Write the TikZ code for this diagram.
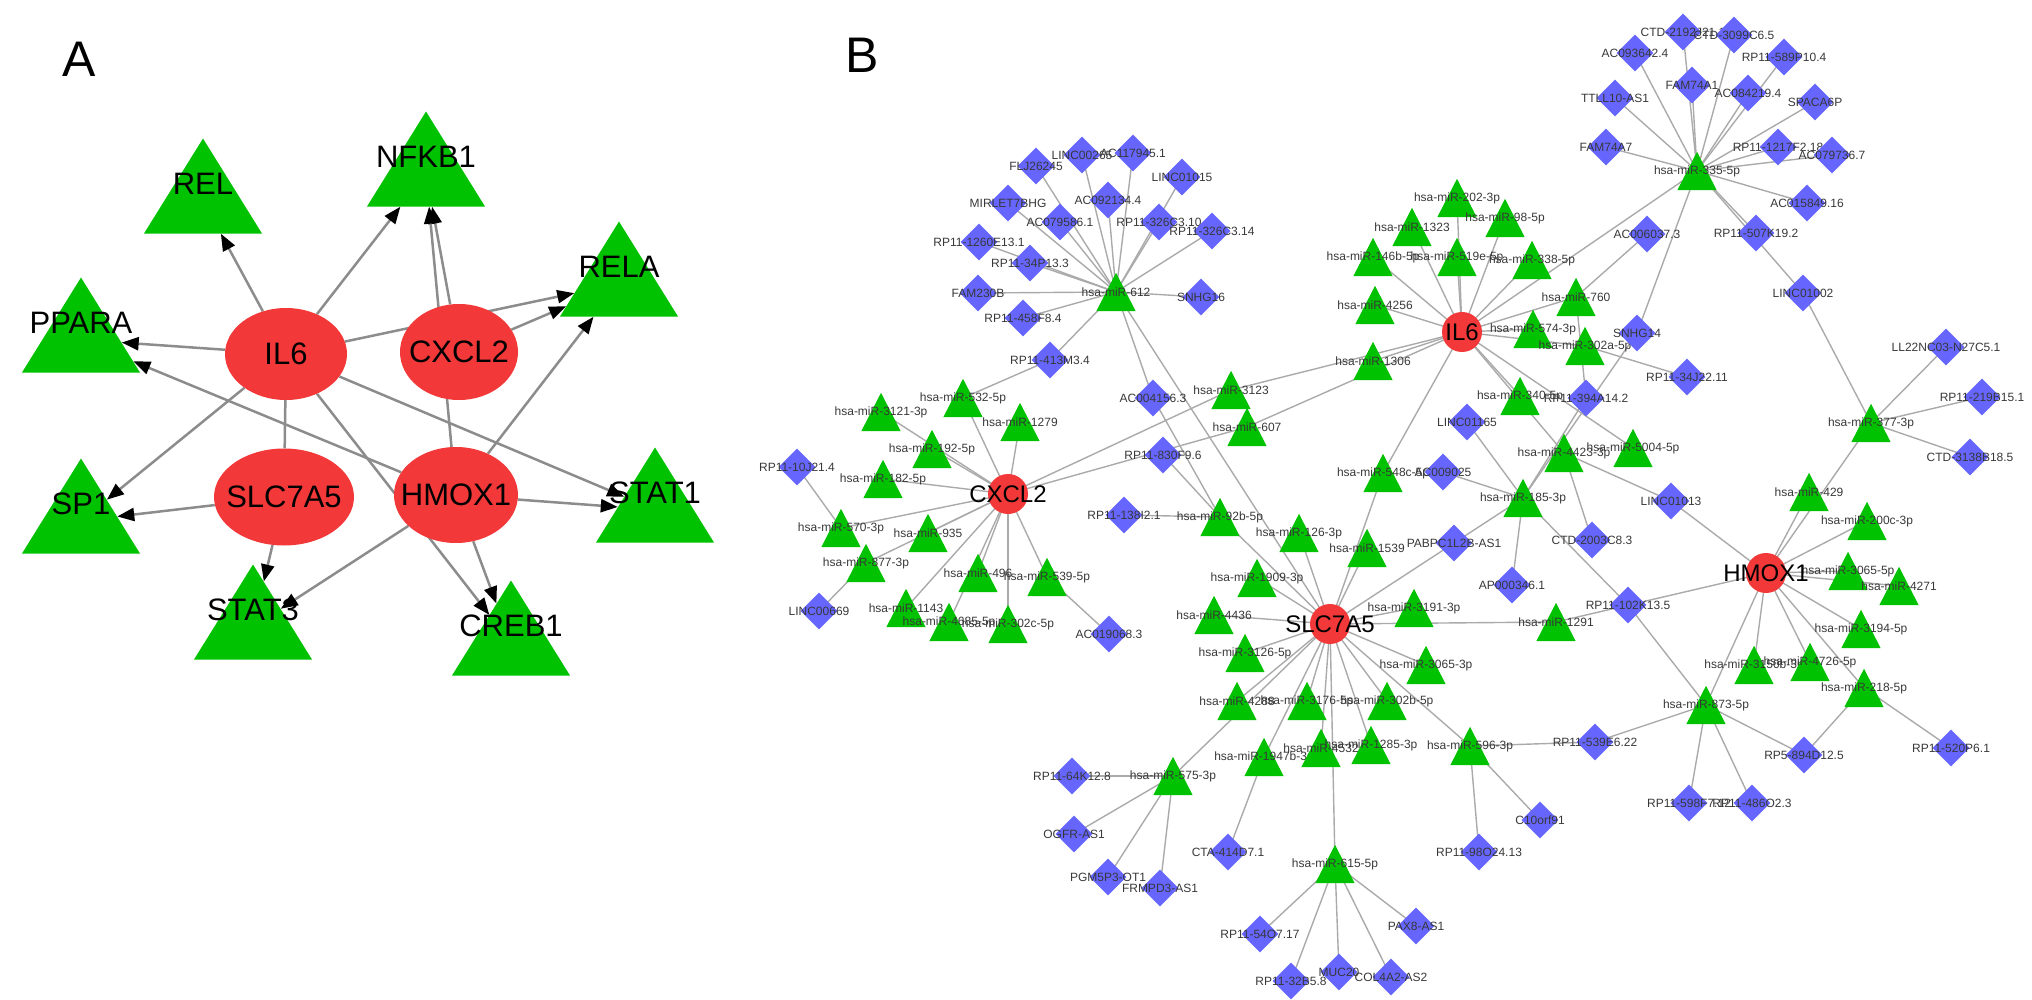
\documentclass[tikz,border=0pt]{standalone}
\usepackage{fontspec}
\setmainfont{Liberation Sans}
\usetikzlibrary{shapes.geometric,arrows.meta,backgrounds}
\definecolor{triG}{RGB}{0,194,0}
\definecolor{diaBlue}{RGB}{102,102,255}
\definecolor{hubR}{RGB}{242,56,56}
\definecolor{edgeB}{RGB}{170,170,170}
\definecolor{edgeA}{RGB}{140,140,140}
\tikzset{
 geneA/.style={ellipse, fill=hubR, inner sep=0pt},
 triA/.style={isosceles triangle, isosceles triangle stretches, shape border rotate=90, fill=triG, inner sep=0pt, minimum width=118pt, minimum height=95pt, anchor=apex},
 lblA/.style={font=\fontsize{31}{34}\selectfont, text=black, inner sep=0pt},
 panel/.style={font=\fontsize{50}{52}\selectfont, text=black, inner sep=0pt},
 arrA/.style={draw=edgeA, line width=2.5pt, -{Triangle[length=17pt,width=13pt,color=black]}},
 lineA/.style={draw=edgeA, line width=2.5pt},
 hubB/.style={circle, fill=hubR, inner sep=0pt, minimum size=40pt},
 triB/.style={rectangle, inner sep=0pt, minimum width=39pt, minimum height=38pt,
   append after command={\pgfextra{\fill[triG] (\tikzlastnode.south west) -- (\tikzlastnode.south east) -- (\tikzlastnode.north) -- cycle;}}},
 diaS/.style={diamond, aspect=1, inner sep=0pt, minimum size=37pt, fill=diaBlue},
 lblB/.style={font=\fontsize{12}{14}\selectfont, text=black!78, inner sep=0pt},
 lblH/.style={font=\fontsize{24}{26}\selectfont, text=black, inner sep=0pt},
 edB/.style={draw=edgeB, line width=1.4pt},
}
\newcommand\mytri[4]{\node[triB,label={[lblB]center:#4}] (#1) at (#2,#3) {};}
\newcommand\mydia[4]{\node[diaS,label={[lblB]center:#4}] (#1) at (#2,#3) {};}
\begin{document}
\begin{tikzpicture}[x=1pt,y=-1pt]
\useasboundingbox (0,0) rectangle (2032,1000);

% ---------------- Panel A ----------------
\node[panel] (labA) at (79,59) {A};
\node[panel] (labB) at (862,55) {B};

\node[triA] (relA) at (203,138) {};
\node[lblA] (relAl) at (203,184) {REL};
\node[triA] (nfkA) at (426,111) {};
\node[lblA] (nfkAl) at (426,157) {NFKB1};
\node[triA] (relaA) at (619,221) {};
\node[lblA] (relaAl) at (619,267) {RELA};
\node[triA] (ppA) at (81,277) {};
\node[lblA] (ppAl) at (81,323) {PPARA};
\node[triA] (spA) at (81,458) {};
\node[lblA] (spAl) at (81,504) {SP1};
\node[triA] (st1A) at (655,447) {};
\node[lblA] (st1Al) at (655,493) {STAT1};
\node[triA] (st3A) at (253,564) {};
\node[lblA] (st3Al) at (253,610) {STAT3};
\node[triA] (crA) at (511,580) {};
\node[lblA] (crAl) at (511,626) {CREB1};

\node[geneA, minimum width=122pt, minimum height=92pt, label={[lblA]center:IL6}] (il6A) at (286,354) {};
\node[geneA, minimum width=118pt, minimum height=96pt, label={[lblA]center:CXCL2}] (cxA) at (459,352) {};
\node[geneA, minimum width=140pt, minimum height=97pt, label={[lblA]center:SLC7A5}] (slA) at (284,497) {};
\node[geneA, minimum width=124pt, minimum height=96pt, label={[lblA]center:HMOX1}] (hmA) at (456,495) {};

\begin{pgfonlayer}{background}
\foreach \a/\b in {il6A/relA, il6A/nfkA, il6A/ppA, il6A/spA, il6A/st1A, il6A/crA, il6A/relaA,
  cxA/nfkA, cxA/relaA, hmA/nfkA, hmA/relaA, hmA/ppA, hmA/st1A, hmA/st3A, hmA/crA, slA/spA, slA/st3A}
  {\draw[arrA] (\a) -- (\b);}
\draw[lineA] (il6A) -- (slA);
\end{pgfonlayer}

% ---------------- Panel B ----------------
% miRNA (triangles)
\mytri{t612}{1116}{292}{hsa-miR-612}
\mytri{t532}{963}{398}{hsa-miR-532-5p}
\mytri{t3121}{881}{412}{hsa-miR-3121-3p}
\mytri{t192}{932}{449}{hsa-miR-192-5p}
\mytri{t1279}{1020}{422}{hsa-miR-1279}
\mytri{t182}{883}{479}{hsa-miR-182-5p}
\mytri{t570}{841}{528}{hsa-miR-570-3p}
\mytri{t935}{928}{533}{hsa-miR-935}
\mytri{t877}{866}{563}{hsa-miR-877-3p}
\mytri{t496}{978}{573}{hsa-miR-496}
\mytri{t1143}{906}{608}{hsa-miR-1143}
\mytri{t4685}{949}{622}{hsa-miR-4685-5p}
\mytri{t302c}{1008}{624}{hsa-miR-302c-5p}
\mytri{t539}{1047}{577}{hsa-miR-539-5p}
\mytri{t3123}{1231}{390}{hsa-miR-3123}
\mytri{t607}{1247}{427}{hsa-miR-607}
\mytri{t1306}{1373}{361}{hsa-miR-1306}
\mytri{t92b}{1220}{517}{hsa-miR-92b-5p}
\mytri{t126}{1299}{533}{hsa-miR-126-3p}
\mytri{t548c}{1383}{473}{hsa-miR-548c-5p}
\mytri{t1539}{1367}{548}{hsa-miR-1539}
\mytri{t1909}{1257}{578}{hsa-miR-1909-3p}
\mytri{t202}{1457}{198}{hsa-miR-202-3p}
\mytri{t98}{1505}{218}{hsa-miR-98-5p}
\mytri{t1323}{1412}{227}{hsa-miR-1323}
\mytri{t146b}{1373}{257}{hsa-miR-146b-5p}
\mytri{t519e}{1457}{257}{hsa-miR-519e-5p}
\mytri{t338}{1532}{260}{hsa-miR-338-5p}
\mytri{t4256}{1375}{305}{hsa-miR-4256}
\mytri{t760}{1576}{297}{hsa-miR-760}
\mytri{t574}{1533}{329}{hsa-miR-574-3p}
\mytri{t302a}{1585}{346}{hsa-miR-302a-5p}
\mytri{t340}{1520}{396}{hsa-miR-340-5p}
\mytri{t4423}{1564}{453}{hsa-miR-4423-3p}
\mytri{t5004}{1633}{448}{hsa-miR-5004-5p}
\mytri{t185}{1523}{498}{hsa-miR-185-3p}
\mytri{t335}{1697}{171}{hsa-miR-335-5p}
\mytri{t4436}{1214}{615}{hsa-miR-4436}
\mytri{t3191}{1414}{608}{hsa-miR-3191-3p}
\mytri{t3126}{1245}{653}{hsa-miR-3126-5p}
\mytri{t3065}{1426}{665}{hsa-miR-3065-3p}
\mytri{t4288}{1237}{701}{hsa-miR-4288}
\mytri{t3176}{1307}{701}{hsa-miR-3176-5p}
\mytri{t302b}{1387}{701}{hsa-miR-302b-5p}
\mytri{t1947}{1264}{757}{hsa-miR-1947b-3p}
\mytri{t4532}{1321}{748}{hsa-miR-4532}
\mytri{t1285}{1371}{745}{hsa-miR-1285-3p}
\mytri{t596}{1470}{746}{hsa-miR-596-3p}
\mytri{t575}{1173}{776}{hsa-miR-575-3p}
\mytri{t615}{1335}{864}{hsa-miR-615-5p}
\mytri{t1291}{1556}{622}{hsa-miR-1291}
\mytri{t429}{1809}{492}{hsa-miR-429}
\mytri{t377}{1871}{423}{hsa-miR-377-3p}
\mytri{t200c}{1867}{521}{hsa-miR-200c-3p}
\mytri{t3065b}{1848}{571}{hsa-miR-3065-5p}
\mytri{t4271}{1899}{586}{hsa-miR-4271}
\mytri{t3194}{1861}{629}{hsa-miR-3194-5p}
\mytri{t3150}{1754}{665}{hsa-miR-3150b-3p}
\mytri{t4726}{1810}{662}{hsa-miR-4726-5p}
\mytri{t218}{1864}{688}{hsa-miR-218-5p}
\mytri{t873}{1706}{705}{hsa-miR-873-5p}

% lncRNA (diamonds)
\mydia{dFLJ}{1036}{166}{FLJ26245}
\mydia{dL265}{1082}{155}{LINC00265}
\mydia{dAC117}{1133}{153}{AC117945.1}
\mydia{dL1015}{1182}{177}{LINC01015}
\mydia{dMIR}{1008}{203}{MIRLET7BHG}
\mydia{dAC0921}{1108}{200}{AC092134.4}
\mydia{dAC0795}{1060}{222}{AC079586.1}
\mydia{dRP326a}{1159}{222}{RP11-326C3.10}
\mydia{dRP326b}{1212}{231}{RP11-326C3.14}
\mydia{dRP1260}{979}{242}{RP11-1260E13.1}
\mydia{dRP34}{1030}{263}{RP11-34P13.3}
\mydia{dFAM230}{978}{293}{FAM230B}
\mydia{dRP458}{1023}{318}{RP11-458F8.4}
\mydia{dSN16}{1201}{297}{SNHG16}
\mydia{dRP413}{1050}{360}{RP11-413M3.4}
\mydia{dAC004}{1153}{398}{AC004156.3}
\mydia{dRP10J}{797}{467}{RP11-10J21.4}
\mydia{dL669}{819}{611}{LINC00669}
\mydia{dAC019}{1109}{634}{AC019068.3}
\mydia{dRP839}{1163}{455}{RP11-830F9.6}
\mydia{dRP138}{1124}{515}{RP11-138I2.1}
\mydia{dAC009}{1443}{472}{AC009025}
\mydia{dL1165}{1467}{422}{LINC01165}
\mydia{dPAB}{1454}{543}{PABPC1L2B-AS1}
\mydia{dAC006}{1647}{234}{AC006037.3}
\mydia{dSN14}{1637}{333}{SNHG14}
\mydia{dRP343}{1687}{377}{RP11-34J22.11}
\mydia{dRP394}{1586}{398}{RP11-394A14.2}
\mydia{dL1013}{1671}{501}{LINC01013}
\mydia{dCTD2003}{1592}{540}{CTD-2003C8.3}
\mydia{dAP346}{1512}{585}{AP000346.1}
\mydia{dRP102}{1628}{605}{RP11-102K13.5}
\mydia{dCTD2192}{1683}{32}{CTD-2192J21.1}
\mydia{dCTD3099}{1734}{35}{CTD-3099C6.5}
\mydia{dAC093}{1635}{53}{AC093642.4}
\mydia{dRP589}{1784}{57}{RP11-589P10.4}
\mydia{dFAM74A1}{1692}{85}{FAM74A1}
\mydia{dAC084}{1748}{93}{AC084219.4}
\mydia{dTTLL}{1615}{98}{TTLL10-AS1}
\mydia{dSPACA}{1815}{102}{SPACA6P}
\mydia{dFAM74A7}{1606}{147}{FAM74A7}
\mydia{dRP1217}{1778}{147}{RP11-1217F2.18}
\mydia{dAC0797}{1832}{155}{AC079736.7}
\mydia{dAC0158}{1807}{203}{AC015849.16}
\mydia{dRP507}{1756}{233}{RP11-507K19.2}
\mydia{dL1002}{1803}{293}{LINC01002}
\mydia{dLL22}{1946}{347}{LL22NC03-N27C5.1}
\mydia{dRP219}{1982}{397}{RP11-219B15.1}
\mydia{dCTD3138}{1970}{457}{CTD-3138B18.5}
\mydia{dRP539}{1595}{742}{RP11-539E6.22}
\mydia{dRP5}{1804}{755}{RP5-894D12.5}
\mydia{dRP520}{1951}{748}{RP11-520P6.1}
\mydia{dRP598}{1689}{803}{RP11-598F7.12}
\mydia{dRP486}{1752}{803}{RP11-486O2.3}
\mydia{dC10}{1540}{820}{C10orf91}
\mydia{dRP98}{1479}{852}{RP11-98O24.13}
\mydia{dRP64}{1072}{776}{RP11-64K12.8}
\mydia{dOGFR}{1074}{834}{OGFR-AS1}
\mydia{dPGM}{1108}{877}{PGM5P3-OT1}
\mydia{dFRM}{1160}{888}{FRMPD3-AS1}
\mydia{dCTA}{1228}{852}{CTA-414D7.1}
\mydia{dRP54}{1260}{934}{RP11-54O7.17}
\mydia{dRP32}{1291}{981}{RP11-32B5.8}
\mydia{dMUC}{1339}{972}{MUC20}
\mydia{dCOL}{1391}{977}{COL4A2-AS2}
\mydia{dPAX}{1416}{926}{PAX8-AS1}

% mRNA hubs
\node[hubB,label={[lblH]center:IL6}] (il6B) at (1462,332) {};
\node[hubB,label={[lblH]center:CXCL2}] (cxB) at (1008,494) {};
\node[hubB,label={[lblH]center:SLC7A5}] (slB) at (1330,624) {};
\node[hubB,label={[lblH]center:HMOX1}] (hmB) at (1766,573) {};

\begin{pgfonlayer}{background}
\foreach \b in {dFLJ,dL265,dAC117,dL1015,dMIR,dAC0921,dAC0795,dRP326a,dRP326b,dRP1260,dRP34,dFAM230,dRP458,dSN16,dRP413,dAC004,slB}
  {\draw[edB] (t612.center) -- (\b.center);}
\foreach \b in {t532,t3121,t192,t1279,t182,t570,t935,t877,t496,t1143,t4685,t302c,t539,t3123,t607}
  {\draw[edB] (cxB.center) -- (\b.center);}
\foreach \b in {t92b,t126,t1909,t1539,t548c,t185,t4436,t3191,t3126,t3065,t4288,t3176,t302b,t1947,t4532,t1285,t596,t575,t615,t1291}
  {\draw[edB] (slB.center) -- (\b.center);}
\foreach \b in {t202,t519e,t98,t1323,t146b,t338,t4256,t760,t574,t302a,t340,t5004,t4423,t335,t548c,t3123,t607,t1306}
  {\draw[edB] (il6B.center) -- (\b.center);}
\foreach \b in {dCTD2192,dCTD3099,dAC093,dRP589,dFAM74A1,dAC084,dTTLL,dSPACA,dFAM74A7,dRP1217,dAC0797,dAC0158,dRP507,dL1002,dSN14}
  {\draw[edB] (t335.center) -- (\b.center);}
\foreach \b in {t429,t377,t200c,t3065b,t4271,t3194,t218,t4726,t3150,t873,t1291,dL1013}
  {\draw[edB] (hmB.center) -- (\b.center);}
\foreach \a/\b in {dRP413/t532, dAC004/t92b, dRP10J/t570, dL669/t877, dAC019/t539,
  dRP839/t92b, dRP138/t92b, t302a/dRP343, t760/dAC006, t760/dRP394,
  dSN14/t185, dRP394/t185, t4423/dL1013, t4423/dCTD2003,
  dL1165/t185, dAC009/t185, t185/dAP346, t185/dRP102, dRP102/t873,
  t377/dLL22, t377/dRP219, t377/dCTD3138, t377/dL1002,
  t873/dRP539, t873/dRP598, t873/dRP486, t873/dRP5, t218/dRP5, t218/dRP520,
  t596/dRP539, t596/dC10, t596/dRP98,
  t575/dRP64, t575/dOGFR, t575/dPGM, t575/dFRM, t1947/dCTA,
  t615/dRP54, t615/dRP32, t615/dMUC, t615/dCOL, t615/dPAX}
  {\draw[edB] (\a.center) -- (\b.center);}
\end{pgfonlayer}
\end{tikzpicture}
\end{document}
